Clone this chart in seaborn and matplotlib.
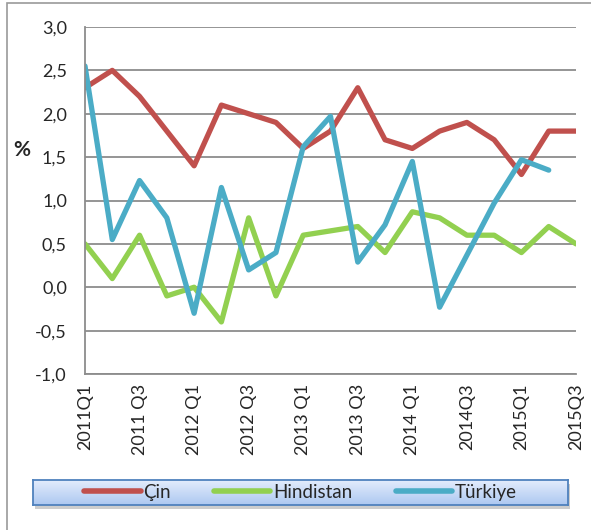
import numpy as np
import pandas as pd
import matplotlib
matplotlib.use("Agg")
import matplotlib.pyplot as plt
from matplotlib.patches import Rectangle
from matplotlib.colors import LinearSegmentedColormap
import seaborn as sns

quarters = ["2011Q1", "2011Q2", "2011Q3", "2011Q4",
            "2012Q1", "2012Q2", "2012Q3", "2012Q4",
            "2013Q1", "2013Q2", "2013Q3", "2013Q4",
            "2014Q1", "2014Q2", "2014Q3", "2014Q4",
            "2015Q1", "2015Q2", "2015Q3"]
tick_labels = ["2011Q1", "", "2011 Q3", "", "2012 Q1", "", "2012 Q3", "",
               "2013 Q1", "", "2013 Q3", "", "2014 Q1", "", "2014Q3", "",
               "2015Q1", "", "2015Q3"]

cin = [2.3, 2.5, 2.2, 1.8, 1.4, 2.1, 2.0, 1.9, 1.6, 1.8, 2.3, 1.7,
       1.6, 1.8, 1.9, 1.7, 1.3, 1.8, 1.8]
hindistan = [0.5, 0.1, 0.6, -0.1, 0.0, -0.4, 0.8, -0.1, 0.6, 0.65, 0.7, 0.4,
             0.87, 0.8, 0.6, 0.6, 0.4, 0.7, 0.5]
turkiye = [2.55, 0.55, 1.23, 0.8, -0.3, 1.15, 0.2, 0.4, 1.62, 1.97, 0.29, 0.72,
           1.45, -0.23, 0.37, 0.97, 1.47, 1.35, np.nan]

series = {"Çin": cin, "Hindistan": hindistan, "Türkiye": turkiye}
colors = {"Çin": "#C0504D", "Hindistan": "#92D050", "Türkiye": "#4BACC6"}

df = pd.DataFrame({
    "x": list(range(len(quarters))) * 3,
    "value": cin + hindistan + turkiye,
    "ulke": [k for k in series for _ in quarters],
})

sns.set_style("white")
plt.rcParams["font.family"] = ["Lato", "DejaVu Sans"]

W, H = 591, 530
fig = plt.figure(figsize=(W / 100, H / 100), dpi=100)

# outer chart frame
fig.patches.append(Rectangle((7 / W, -0.1), 1.2, 1 - 3 / H + 0.1, transform=fig.transFigure,
                             fill=False, edgecolor="#9a9a9a", linewidth=1.2, zorder=-2))

ax = fig.add_axes([85 / W, 1 - 374 / H, (576 - 85) / W, (374 - 27) / H])
sns.lineplot(data=df, x="x", y="value", hue="ulke", palette=colors, linewidth=3.8,
             ax=ax, legend=False, solid_capstyle="round")

ax.set_xlim(0, len(quarters) - 1)
ax.set_ylim(-1, 3)
yt = np.arange(-1, 3.01, 0.5)
ax.set_yticks(yt)
ax.set_yticklabels([f"{v:.1f}".replace(".", ",") for v in yt], fontsize=13)
ax.set_xticks(range(len(quarters)))
ax.set_xticklabels(tick_labels, rotation=90, fontsize=13)
ax.yaxis.grid(True, color="#8c8c8c", linewidth=1.3)
ax.xaxis.grid(False)
for s in ["top", "right"]:
    ax.spines[s].set_visible(False)
for s in ["left", "bottom"]:
    ax.spines[s].set_color("#8c8c8c")
    ax.spines[s].set_linewidth(1.3)
ax.tick_params(axis="y", direction="out", length=5, width=1.3, color="#8c8c8c", pad=8)
ax.tick_params(axis="x", direction="inout", length=10, width=1.3, color="#8c8c8c", pad=2)
ax.set_xlabel("")
ax.set_ylabel("")
fig.text(22 / W, 1 - 150 / H, "%", fontsize=15, fontweight="bold", ha="center", va="center")

# legend background with gradient and shadow
lx0, lx1, ly0, ly1 = 33, 568, 480, 505
fig.patches.append(Rectangle((lx0 / W + 0.004, 1 - (ly1 + 4) / H), (lx1 - lx0) / W, (ly1 - ly0) / H,
                             transform=fig.transFigure, facecolor="#b8b8b8", edgecolor="none",
                             alpha=0.7, zorder=-1))
lax = fig.add_axes([lx0 / W, 1 - ly1 / H, (lx1 - lx0) / W, (ly1 - ly0) / H])
grad = np.linspace(0, 1, 50).reshape(-1, 1)
cmap = LinearSegmentedColormap.from_list("lg", ["#e3ecfc", "#adc8f1"])
lax.imshow(grad, aspect="auto", cmap=cmap, extent=[0, 1, 0, 1], origin="upper")
lax.set_xticks([])
lax.set_yticks([])
for s in lax.spines.values():
    s.set_color("#4f81bd")
    s.set_linewidth(1.3)

handles = [plt.Line2D([], [], color=colors[k], linewidth=4, solid_capstyle="round") for k in series]
leg = lax.legend(handles, list(series.keys()), loc="center", ncol=3, frameon=False,
                 fontsize=13.5, handlelength=3.0, handletextpad=0.15, columnspacing=2.3,
                 bbox_to_anchor=(0.5, 0.5))

fig.savefig("out.png", dpi=100)
